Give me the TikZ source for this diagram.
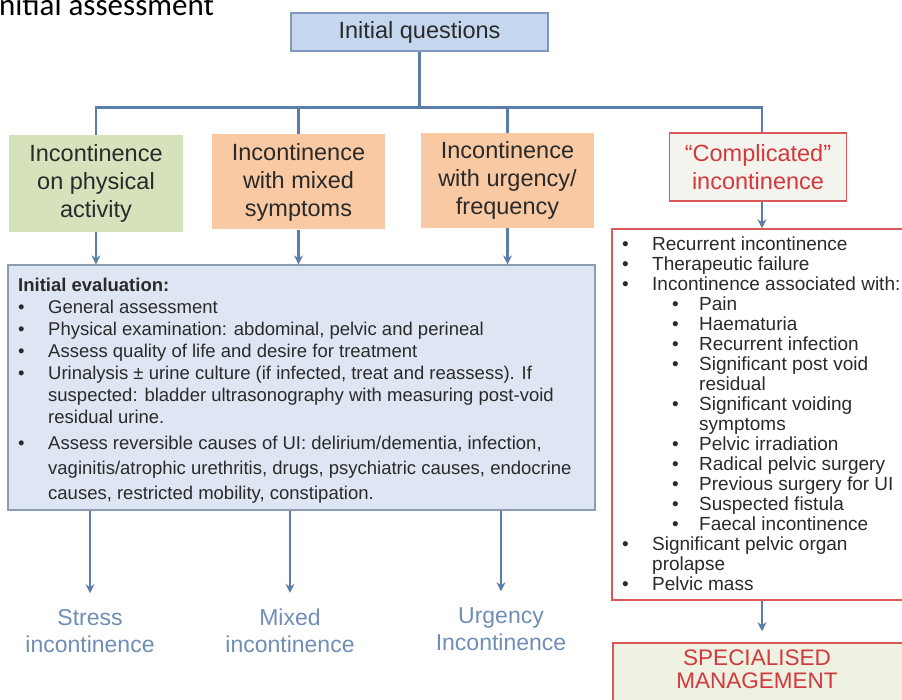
\documentclass[tikz,border=0pt]{standalone}
\usepackage{fontspec}
\setmainfont{Liberation Sans}
\newfontfamily\titlefont{Carlito}
\usetikzlibrary{arrows.meta}
\definecolor{Ink}{HTML}{2A2A2A}
\definecolor{LineBlue}{HTML}{5A7DAA}
\definecolor{QFill}{HTML}{C5D6EF}
\definecolor{QEdge}{HTML}{7F98BF}
\definecolor{ActFill}{HTML}{D6E2BC}
\definecolor{UrgFill}{HTML}{F8C9A3}
\definecolor{EvalFill}{HTML}{DDE6F2}
\definecolor{EvalEdge}{HTML}{8E9CB2}
\definecolor{CompEdge}{HTML}{D9595B}
\definecolor{CompFill}{HTML}{F5F3EE}
\definecolor{CompText}{HTML}{D2393C}
\definecolor{SpecFill}{HTML}{EEF0E2}
\definecolor{OutText}{HTML}{6F8DB5}

% bullets for the two lists
\newcommand{\eb}{\makebox[30pt][l]{\textbullet}}
\newcommand{\ec}{\hspace*{30pt}}
\newcommand{\cb}{\hspace*{2pt}\makebox[30pt][l]{\textbullet}}
\newcommand{\cs}{\hspace*{52pt}\makebox[27pt][l]{\textbullet}}

\begin{document}
\begin{tikzpicture}[x=1pt,y=-1pt,
    catbox/.style={minimum width=173pt,minimum height=95pt,inner sep=0pt,
      align=center,text=Ink,font=\fontsize{23.5}{28}\selectfont},
    link/.style={LineBlue,line width=2.2pt},
    arr/.style={link,-{Stealth[length=9pt,width=9pt]}},
    outlbl/.style={OutText,align=center,inner sep=2pt,
      font=\fontsize{23}{27}\selectfont}]
  \useasboundingbox (0,0) rectangle (902,700);

  \node[anchor=base west,inner sep=0pt,
    font=\titlefont\fontsize{31}{31}\selectfont] (title) at (-9,15.5)
    {Initial assessment};

  \node[catbox,fill=QFill,draw=QEdge,line width=1.2pt,
    minimum width=257pt,minimum height=38pt] (q) at (419.5,32)
    {Initial questions};

  \node[catbox,fill=ActFill,minimum width=174pt,minimum height=97pt]
    (act) at (96,183.5) {Incontinence\\on physical\\activity};
  \node[catbox,fill=UrgFill] (mix) at (298.5,182)
    {Incontinence\\with mixed\\symptoms};
  \node[catbox,fill=UrgFill] (urg) at (507.5,180.5)
    {Incontinence\\with urgency/\\frequency};
  \node[catbox,fill=CompFill,draw=CompEdge,line width=1.5pt,text=CompText,
    minimum width=177pt,minimum height=68pt] (comp) at (758,167)
    {“Complicated”\\incontinence};

  % initial evaluation
  \node[draw=EvalEdge,fill=EvalFill,line width=1.2pt,
    minimum width=587pt,minimum height=245pt] (eval) at (301.5,387.5) {};
  \node[anchor=north west,inner sep=0pt,align=left,text=Ink,
    font=\fontsize{18.5}{22}\selectfont] (evaltxt) at (18,278)
    {\textbf{Initial evaluation:}\\
     \eb General assessment\\
     \eb Physical examination: abdominal, pelvic and perineal\\
     \eb Assess quality of life and desire for treatment\\
     \eb Urinalysis ± urine culture (if infected, treat and reassess). If\\
     \ec suspected: bladder ultrasonography with measuring post-void\\
     \ec residual urine.\\[3.5pt]
     \eb Assess reversible causes of UI: delirium/dementia, infection,\\[3pt]
     \ec vaginitis/atrophic urethritis, drugs, psychiatric causes, endocrine\\[3pt]
     \ec causes, restricted mobility, constipation.};

  % complicated incontinence
  \node[draw=CompEdge,line width=1.5pt,fill=white,
    minimum width=298pt,minimum height=371pt] (list) at (761,414.5) {};
  \node[anchor=north west,inner sep=0pt,align=left,text=Ink,
    font=\fontsize{19}{20}\selectfont] (listtxt) at (620,236.5)
    {\cb Recurrent incontinence\\
     \cb Therapeutic failure\\
     \cb Incontinence associated with:\\
     \cs Pain\\
     \cs Haematuria\\
     \cs Recurrent infection\\
     \cs Significant post void\\
     \hspace*{79pt}residual\\
     \cs Significant voiding\\
     \hspace*{79pt}symptoms\\
     \cs Pelvic irradiation\\
     \cs Radical pelvic surgery\\
     \cs Previous surgery for UI\\
     \cs Suspected fistula\\
     \cs Faecal incontinence\\
     \cb Significant pelvic organ\\
     \hspace*{32pt}prolapse\\
     \cb Pelvic mass};

  \node[draw=CompEdge,line width=1.5pt,fill=SpecFill,
    minimum width=297pt,minimum height=80pt] (spec) at (761.5,683) {};
  \node[text=CompText,align=center,font=\fontsize{22.5}{23}\selectfont]
    (spectxt) at (757,669.5) {SPECIALISED\\MANAGEMENT};

  \node[outlbl] (stress) at (90,631) {Stress\\incontinence};
  \node[outlbl] (mixed) at (290,631) {Mixed\\incontinence};
  \node[outlbl] (urgent) at (501,629) {Urgency\\Incontinence};

  % connectors
  \draw[link] (q.south) -- ++(0,56) coordinate (bus);
  \draw[link] (act.north) |- (bus) -| ([xshift=4pt]comp.north);
  \foreach \n in {mix,urg}
    \draw[link] (\n.north) -- (\n.north |- bus);
  \foreach \n in {act,mix,urg}
    \draw[arr] (\n.south) -- (\n.south |- eval.north);
  \foreach \n in {stress,mixed,urgent}
    \draw[arr,shorten >=14pt] (\n.north |- eval.south) -- (\n.north);
  \draw[arr] ([xshift=4pt]comp.south) -- ([xshift=4pt]comp.south |- list.north);
  \draw[arr,shorten >=11pt] ([xshift=4pt]comp.south |- list.south)
    -- ([xshift=4pt]comp.south |- spec.north);
\end{tikzpicture}
\end{document}
